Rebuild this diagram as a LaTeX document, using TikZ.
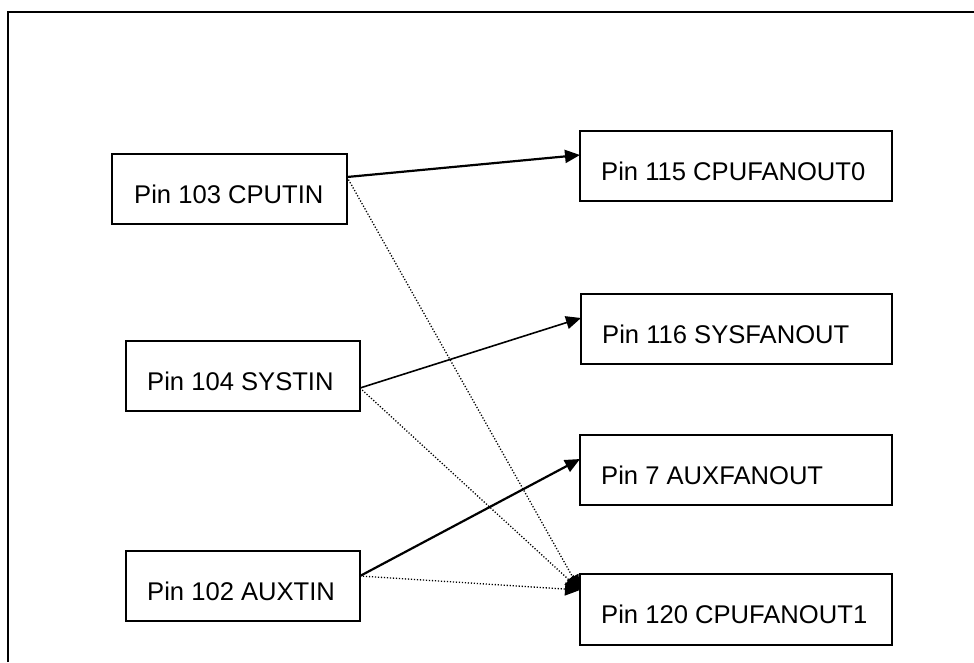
\documentclass[tikz,border=0pt]{standalone}
\usepackage{fontspec}
\setmainfont{Liberation Sans}
\usetikzlibrary{arrows.meta}
\begin{document}
\begin{tikzpicture}[x=1pt,y=-1pt,
  pinbox/.style={draw,line width=1.1pt,rectangle,inner sep=0pt,outer sep=0pt,minimum height=70pt},
  pintext/.style={anchor=base west,inner sep=0pt,font=\fontsize{25.6}{30}\selectfont},
  frameline/.style={line width=1.8pt},
  solidlink/.style={line width=2.2pt,-{Triangle[length=15pt,width=13pt]}},
  thinlink/.style={line width=1.6pt,-{Triangle[length=15pt,width=13pt]}},
  dotlink/.style={line width=1.3pt,dash pattern=on 1.2pt off 1.8pt,-{Triangle[length=15pt,width=13pt]}}]
\useasboundingbox (0,0) rectangle (974,662);
\fill[white] (0,0) rectangle (974,662);
\draw[frameline] (8,662) -- (8,12) -- (974,12);
% boxes
\node[pinbox,minimum width=235pt] (a) at (229.5,189) {};
\node[pinbox,minimum width=234pt] (s) at (243,376) {};
\node[pinbox,minimum width=234pt] (x) at (243,586) {};
\node[pinbox,minimum width=312pt] (b) at (736,166) {};
\node[pinbox,minimum width=311pt] (sf) at (736.5,329) {};
\node[pinbox,minimum width=312pt] (xf) at (736,470) {};
\node[pinbox,minimum width=312pt,minimum height=71pt] (c1) at (736,609.5) {};
% texts
\node[pintext] (ta) at ([shift={(22pt,-49pt)}]a.north west) {Pin 103 CPUTIN};
\node[pintext] (ts) at ([shift={(21pt,-49pt)}]s.north west) {Pin 104 SYSTIN};
\node[pintext] (tx) at ([shift={(21pt,-49pt)}]x.north west) {Pin 102 AUXTIN};
\node[pintext] (tb) at ([shift={(21pt,-49pt)}]b.north west) {Pin 115 CPUFANOUT0};
\node[pintext] (tsf) at ([shift={(21pt,-49pt)}]sf.north west) {Pin 116 SYSFANOUT};
\node[pintext] (txf) at ([shift={(21pt,-49pt)}]xf.north west) {Pin 7 AUXFANOUT};
\node[pintext] (tc1) at ([shift={(21pt,-49pt)}]c1.north west) {Pin 120 CPUFANOUT1};
% connection points
\coordinate (aout) at ([yshift=-23pt]a.north east);
\coordinate (sout) at ([yshift=-47pt]s.north east);
\coordinate (xout) at ([yshift=-25pt]x.north east);
\coordinate (bin) at ([yshift=-24pt]b.north west);
\coordinate (sfin) at ([yshift=-24pt]sf.north west);
\coordinate (xfin) at ([yshift=-24pt]xf.north west);
\coordinate (c1in) at ([yshift=-16pt]c1.north west);
% connectors
\draw[dotlink] (aout) -- (c1in);
\draw[dotlink] (sout) -- (c1in);
\draw[dotlink] (xout) -- (c1in);
\draw[solidlink] (aout) -- (bin);
\draw[thinlink] (sout) -- (sfin);
\draw[solidlink] (xout) -- (xfin);
\end{tikzpicture}
\end{document}
